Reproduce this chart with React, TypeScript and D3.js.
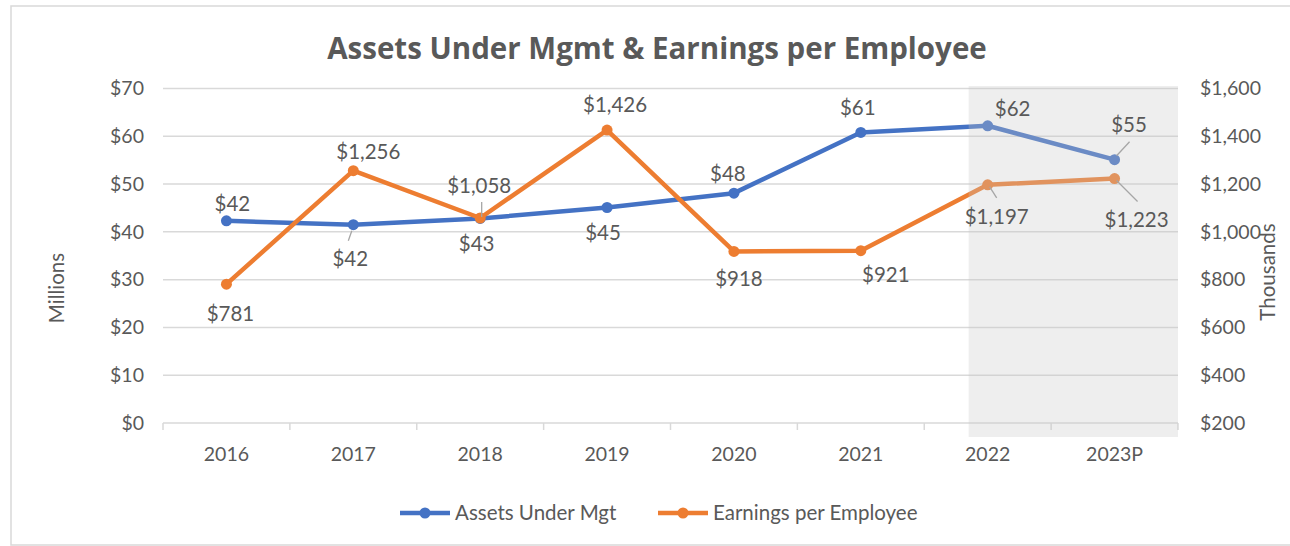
import React from "react";
import * as d3 from "d3";

const years = ["2016", "2017", "2018", "2019", "2020", "2021", "2022", "2023P"];
const assetsUnderMgt = [42.3, 41.5, 42.8, 45.1, 48.1, 60.8, 62.2, 55.1];
const earningsPerEmployee = [781, 1256, 1058, 1426, 918, 921, 1197, 1223];
const leftTicks = [0, 10, 20, 30, 40, 50, 60, 70];
const rightTicks = [200, 400, 600, 800, 1000, 1200, 1400, 1600];
const highlightedYears = ["2022", "2023P"];

// label placement offsets relative to each point [dx, dy]
const aumLabelOffsets = [[6, -17], [-3, 34], [-3.5, 25], [-4, 25], [-6, -19], [-3, -25], [25, -17], [14.5, -35]];
const epeLabelOffsets = [[4, 30], [15, -19], [-1, -32], [8, -25], [5, 27], [25, 24.5], [9, 32], [22, 41]];
// leader lines [x1, y1, x2, y2] relative to point, null if none
const aumLeaders: (number[] | null)[] = [null, [-1.5, 6, -5, 16], null, null, null, null, null, [15, -18, 2, -4]];
const epeLeaders: (number[] | null)[] = [null, null, [1.5, -16, 1.5, -1], null, null, null, [2, 2, 9, 13], [2, 2, 23, 23]];

const W = 1290;
const H = 546;
const M = { left: 163, right: 1178, top: 88.5, bottom: 423 };
const FONT = "Lato, 'Open Sans', sans-serif";
const TXT = "#595959";
const BLUE = "#4472C4";
const ORANGE = "#ED7D31";
const GRID = "#D9D9D9";

export default function App() {
  const x = d3.scaleBand<string>().domain(years).range([M.left, M.right]).padding(0);
  const xc = (i: number) => (x(years[i]) as number) + x.bandwidth() / 2;
  const yL = d3.scaleLinear().domain([0, 70]).range([M.bottom, M.top]);
  const yR = d3.scaleLinear().domain([200, 1600]).range([M.bottom, M.top]);

  const lineL = d3.line<number>().x((_, i) => xc(i)).y((d) => yL(d));
  const lineR = d3.line<number>().x((_, i) => xc(i)).y((d) => yR(d));

  const fmt = (v: number) => "$" + d3.format(",.0f")(v);

  const hx0 = (x(highlightedYears[0]) as number) + x.bandwidth() * 0.35;
  const hx1 = (x(highlightedYears[highlightedYears.length - 1]) as number) + x.bandwidth();

  const boundaries = years.map((y) => x(y) as number).concat([M.right]);

  return (
    <svg width={W} height={H} style={{ position: "absolute", left: 0, top: 0, background: "#fff" }} fontFamily={FONT}>
      <rect x={11} y={6} width={W + 20} height={539} fill="#fff" stroke={GRID} strokeWidth={1.5} />
      <text x={657} y={49} dy="0.35em" textAnchor="middle" fontSize={29.5} fontWeight="bold" fill={TXT} fontFamily="'Open Sans', Lato, sans-serif">
        Assets Under Mgmt &amp; Earnings per Employee
      </text>

      {/* gridlines */}
      {leftTicks.map((t) => (
        <line key={"g" + t} x1={M.left} x2={M.right} y1={yL(t)} y2={yL(t)} stroke={GRID} strokeWidth={1.5} />
      ))}
      {/* x ticks */}
      {boundaries.map((b, i) => (
        <line key={"t" + i} x1={b} x2={b} y1={M.bottom} y2={M.bottom + 7} stroke={GRID} strokeWidth={1.5} />
      ))}

      {/* left ticks */}
      {leftTicks.map((t) => (
        <text key={"l" + t} x={144} y={yL(t)} dy="0.35em" textAnchor="end" fontSize={19.5} fill={TXT}>
          {fmt(t)}
        </text>
      ))}
      {rightTicks.map((t) => (
        <text key={"r" + t} x={1200} y={yR(t)} dy="0.35em" textAnchor="start" fontSize={19.5} fill={TXT}>
          {fmt(t)}
        </text>
      ))}
      {years.map((y, i) => (
        <text key={"x" + y} x={xc(i)} y={454} dy="0.35em" textAnchor="middle" fontSize={19.5} fill={TXT}>
          {y}
        </text>
      ))}

      <text transform={`translate(57,288) rotate(-90)`} textAnchor="middle" dy="0.35em" fontSize={20.5} fill={TXT}>
        Millions
      </text>
      <text transform={`translate(1268,272) rotate(-90)`} textAnchor="middle" dy="0.35em" fontSize={20.5} fill={TXT}>
        Thousands
      </text>

      {/* lines */}
      <path d={lineL(assetsUnderMgt) as string} fill="none" stroke={BLUE} strokeWidth={4.5} strokeLinejoin="round" />
      {assetsUnderMgt.map((v, i) => (
        <circle key={"cb" + i} cx={xc(i)} cy={yL(v)} r={5.5} fill={BLUE} />
      ))}
      <path d={lineR(earningsPerEmployee) as string} fill="none" stroke={ORANGE} strokeWidth={4.5} strokeLinejoin="round" />
      {earningsPerEmployee.map((v, i) => (
        <circle key={"co" + i} cx={xc(i)} cy={yR(v)} r={5.5} fill={ORANGE} />
      ))}

      {/* highlight overlay */}
      <rect x={hx0} y={M.top - 2.5} width={hx1 - hx0} height={M.bottom + 14 - (M.top - 2.5)} fill="#C8C8C8" opacity={0.3} />

      {/* leader lines */}
      {aumLeaders.map((l, i) =>
        l ? (
          <line key={"la" + i} x1={xc(i) + l[0]} y1={yL(assetsUnderMgt[i]) + l[1]} x2={xc(i) + l[2]} y2={yL(assetsUnderMgt[i]) + l[3]} stroke="#A6A6A6" strokeWidth={1.3} />
        ) : null
      )}
      {epeLeaders.map((l, i) =>
        l ? (
          <line key={"le" + i} x1={xc(i) + l[0]} y1={yR(earningsPerEmployee[i]) + l[1]} x2={xc(i) + l[2]} y2={yR(earningsPerEmployee[i]) + l[3]} stroke="#A6A6A6" strokeWidth={1.3} />
        ) : null
      )}

      {/* data labels */}
      {assetsUnderMgt.map((v, i) => (
        <text key={"da" + i} x={xc(i) + aumLabelOffsets[i][0]} y={yL(v) + aumLabelOffsets[i][1]} dy="0.35em" textAnchor="middle" fontSize={20.5} fill={TXT}>
          {fmt(v)}
        </text>
      ))}
      {earningsPerEmployee.map((v, i) => (
        <text key={"de" + i} x={xc(i) + epeLabelOffsets[i][0]} y={yR(v) + epeLabelOffsets[i][1]} dy="0.35em" textAnchor="middle" fontSize={20.5} fill={TXT}>
          {fmt(v)}
        </text>
      ))}

      {/* legend */}
      <line x1={400} x2={450} y1={513} y2={513} stroke={BLUE} strokeWidth={4.5} />
      <circle cx={425} cy={513} r={5.5} fill={BLUE} />
      <text x={455} y={513} dy="0.35em" fontSize={20.5} fill={TXT}>Assets Under Mgt</text>
      <line x1={658} x2={708} y1={513} y2={513} stroke={ORANGE} strokeWidth={4.5} />
      <circle cx={683} cy={513} r={5.5} fill={ORANGE} />
      <text x={713} y={513} dy="0.35em" fontSize={20.5} fill={TXT}>Earnings per Employee</text>
    </svg>
  );
}
